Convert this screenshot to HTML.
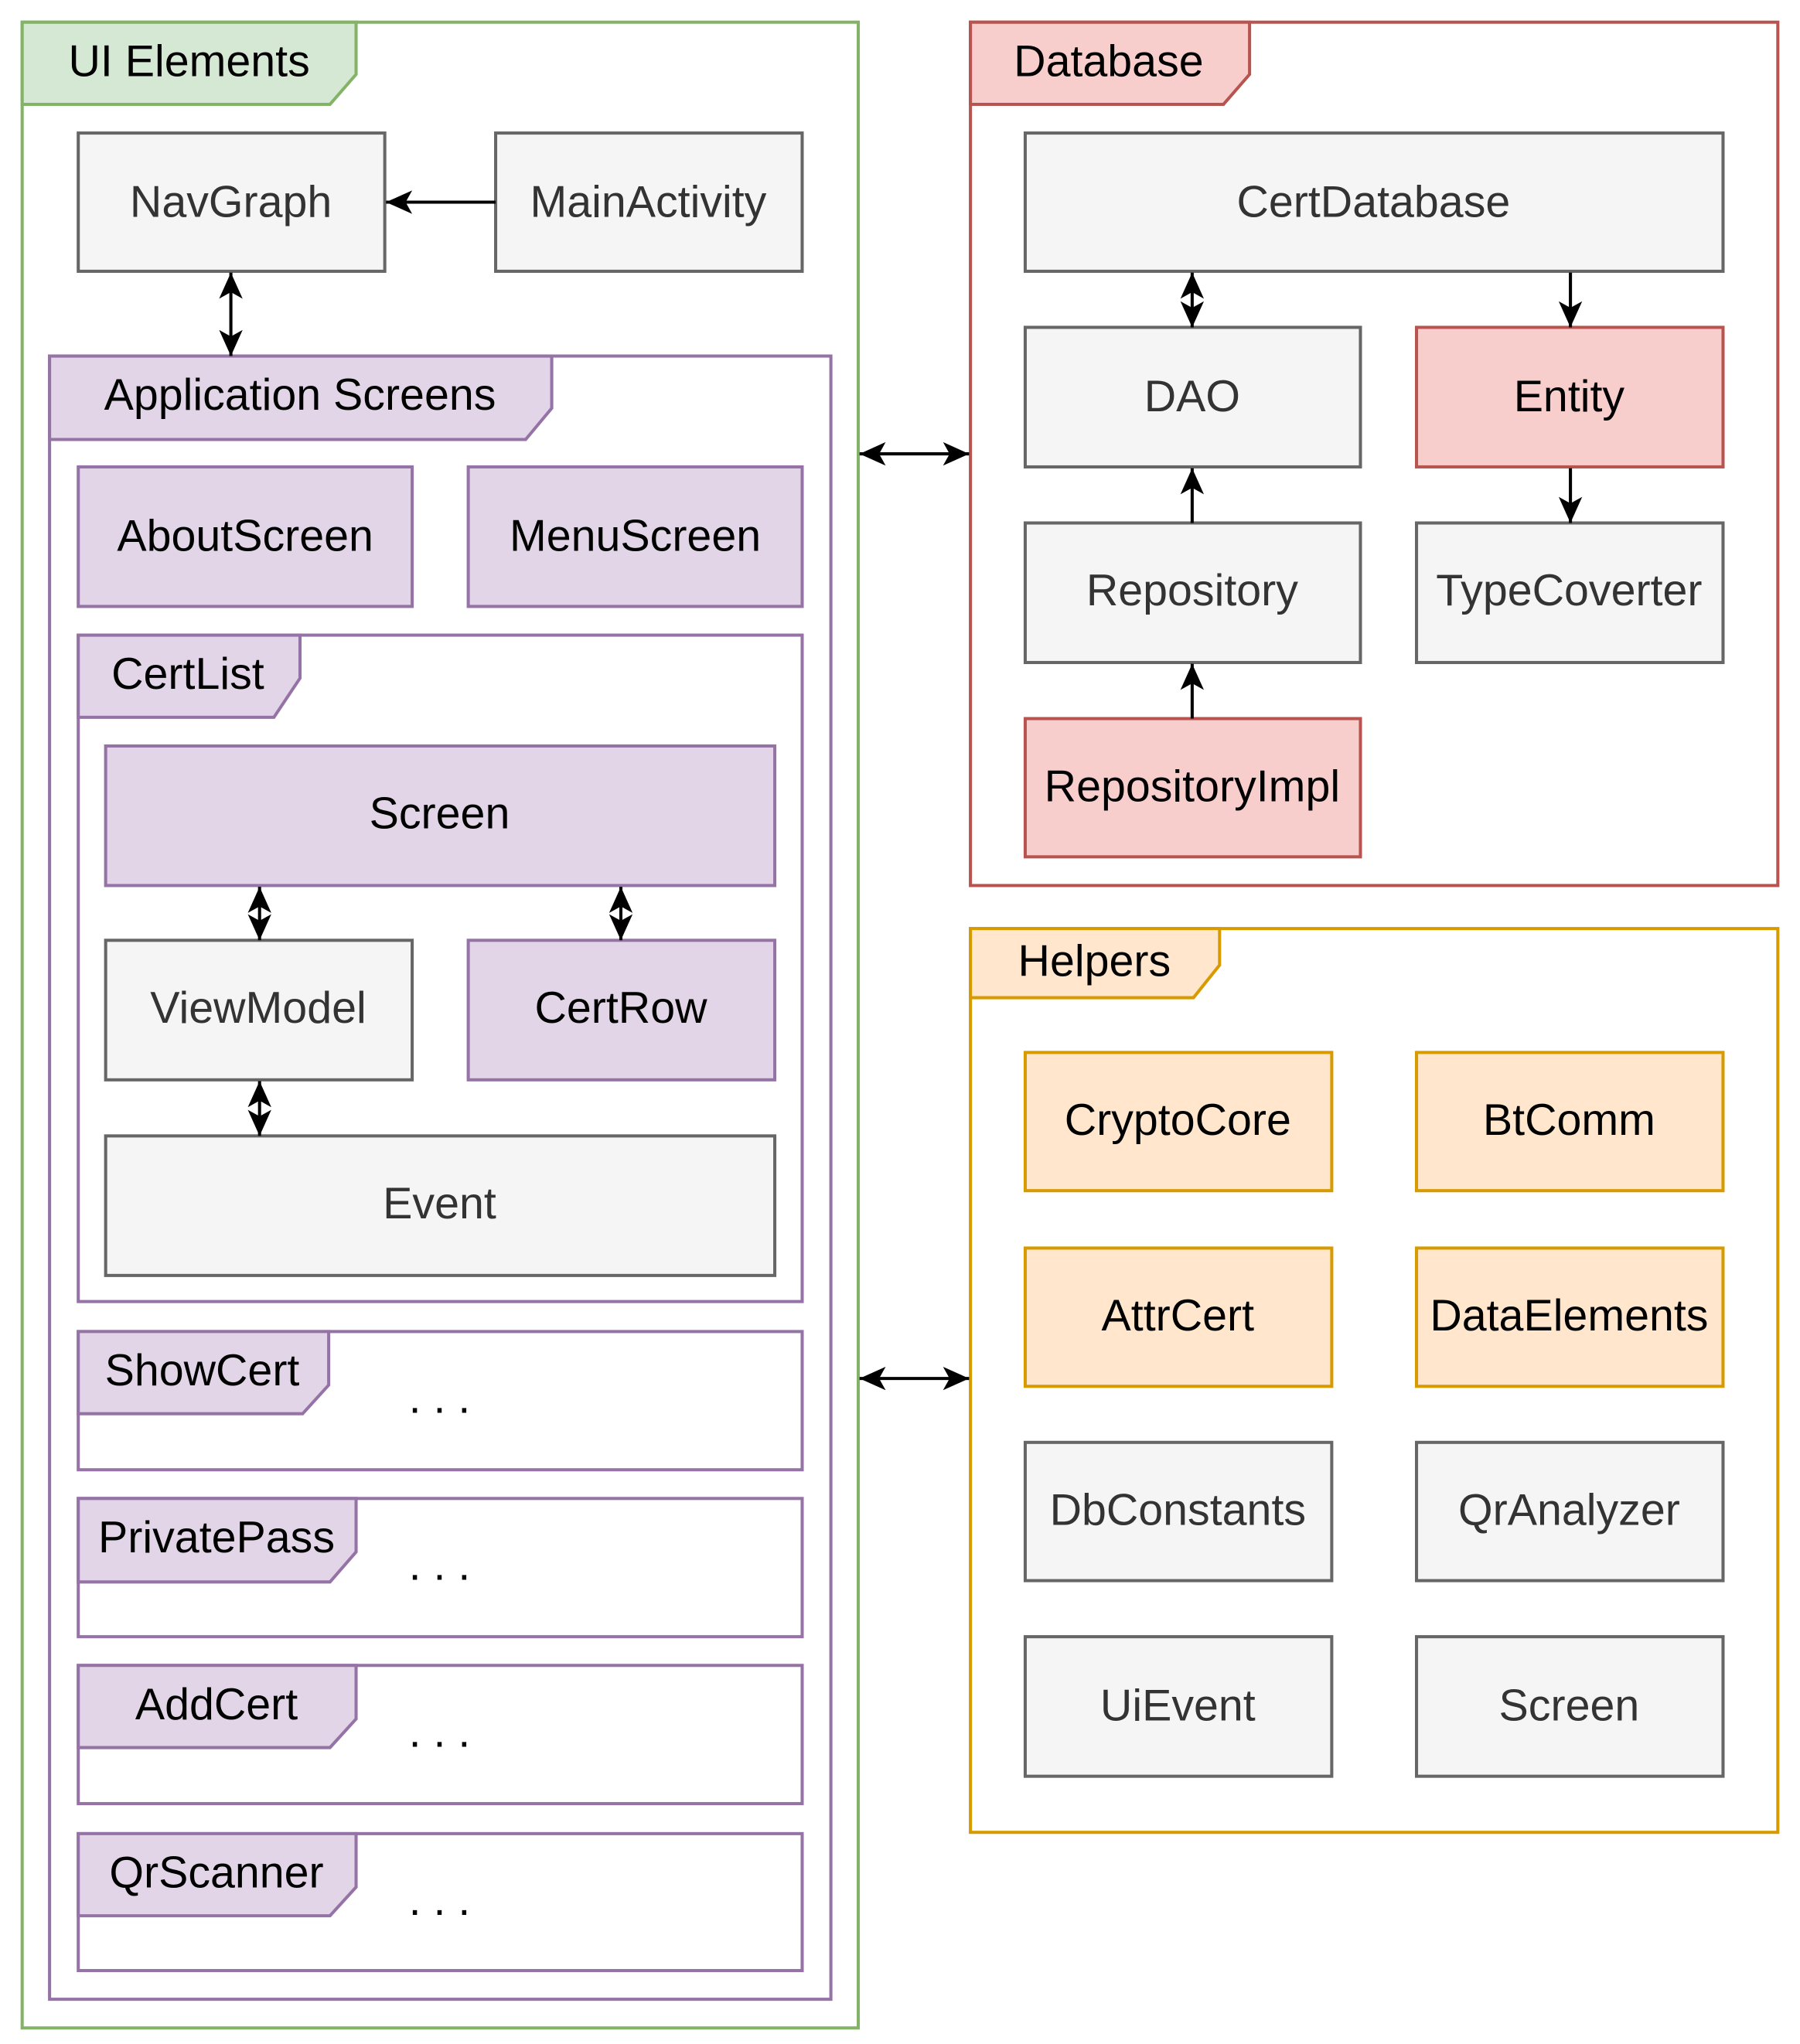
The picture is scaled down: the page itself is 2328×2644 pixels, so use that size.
<!DOCTYPE html>
<html><head><meta charset="utf-8"><style>
html,body{margin:0;padding:0;background:#fff}
svg{display:block}
text{font-family:"Liberation Sans",Arial,sans-serif;font-size:34px;text-anchor:middle;dominant-baseline:central}
</style></head><body>
<svg width="2328" height="2644" viewBox="0 0 1380 1567.3" xmlns="http://www.w3.org/2000/svg">
<defs>
<marker id="a" viewBox="0 0 20 20" refX="20" refY="10" markerWidth="20" markerHeight="20" markerUnits="userSpaceOnUse" orient="auto-start-reverse">
<path d="M0,1 L20,10 L0,19 L5,10 Z" fill="#000"/>
</marker>
</defs>
<g stroke-width="2.4">
<!-- UI Elements -->
<rect x="17" y="17" width="641" height="1538" fill="#fff" stroke="#82b366"/>
<path d="M17,17 H273 V57 L253,80 H17 Z" fill="#d5e8d4" stroke="#82b366"/>
<text x="145" y="47" fill="#000">UI Elements</text>

<rect x="60" y="102" width="235" height="106" fill="#f5f5f5" stroke="#666"/>
<text x="177" y="155" fill="#333">NavGraph</text>
<rect x="380" y="102" width="235" height="106" fill="#f5f5f5" stroke="#666"/>
<text x="497" y="155" fill="#333">MainActivity</text>

<!-- App Screens -->
<rect x="38" y="273" width="599" height="1260" fill="#fff" stroke="#9673a6"/>
<path d="M38,273 H423 V313 L403,337 H38 Z" fill="#e1d5e7" stroke="#9673a6"/>
<text x="230" y="303" fill="#000">Application Screens</text>

<rect x="60" y="358" width="256" height="107" fill="#e1d5e7" stroke="#9673a6"/>
<text x="188" y="411" fill="#000">AboutScreen</text>
<rect x="359" y="358" width="256" height="107" fill="#e1d5e7" stroke="#9673a6"/>
<text x="487" y="411" fill="#000">MenuScreen</text>

<rect x="60" y="487" width="555" height="511" fill="#fff" stroke="#9673a6"/>
<path d="M60,487 H230 V520 L210,550 H60 Z" fill="#e1d5e7" stroke="#9673a6"/>
<text x="144" y="517" fill="#000">CertList</text>

<rect x="81" y="572" width="513" height="107" fill="#e1d5e7" stroke="#9673a6"/>
<text x="337" y="624" fill="#000">Screen</text>
<rect x="81" y="721" width="235" height="107" fill="#f5f5f5" stroke="#666"/>
<text x="198" y="773" fill="#333">ViewModel</text>
<rect x="359" y="721" width="235" height="107" fill="#e1d5e7" stroke="#9673a6"/>
<text x="476" y="773" fill="#000">CertRow</text>
<rect x="81" y="871" width="513" height="107" fill="#f5f5f5" stroke="#666"/>
<text x="337" y="923" fill="#333">Event</text>

<rect x="60" y="1021" width="555" height="106" fill="#fff" stroke="#9673a6"/>
<path d="M60,1021 H252 V1062 L232,1084 H60 Z" fill="#e1d5e7" stroke="#9673a6"/>
<text x="155" y="1051" fill="#000">ShowCert</text>
<text x="337" y="1072" fill="#000">. . .</text>

<rect x="60" y="1149" width="555" height="106" fill="#fff" stroke="#9673a6"/>
<path d="M60,1149 H273 V1190 L253,1213 H60 Z" fill="#e1d5e7" stroke="#9673a6"/>
<text x="166" y="1179" fill="#000">PrivatePass</text>
<text x="337" y="1200" fill="#000">. . .</text>

<rect x="60" y="1277" width="555" height="106" fill="#fff" stroke="#9673a6"/>
<path d="M60,1277 H273 V1318 L253,1340 H60 Z" fill="#e1d5e7" stroke="#9673a6"/>
<text x="166" y="1307" fill="#000">AddCert</text>
<text x="337" y="1328" fill="#000">. . .</text>

<rect x="60" y="1406" width="555" height="105" fill="#fff" stroke="#9673a6"/>
<path d="M60,1406 H273 V1447 L253,1469 H60 Z" fill="#e1d5e7" stroke="#9673a6"/>
<text x="166" y="1436" fill="#000">QrScanner</text>
<text x="337" y="1457" fill="#000">. . .</text>

<!-- Database -->
<rect x="744" y="17" width="619" height="662" fill="#fff" stroke="#b85450"/>
<path d="M744,17 H958 V57 L938,80 H744 Z" fill="#f8cecc" stroke="#b85450"/>
<text x="850" y="47" fill="#000">Database</text>

<rect x="786" y="102" width="535" height="106" fill="#f5f5f5" stroke="#666"/>
<text x="1053" y="155" fill="#333">CertDatabase</text>
<rect x="786" y="251" width="257" height="107" fill="#f5f5f5" stroke="#666"/>
<text x="914" y="304" fill="#333">DAO</text>
<rect x="1086" y="251" width="235" height="107" fill="#f8cecc" stroke="#b85450"/>
<text x="1203" y="304" fill="#000">Entity</text>
<rect x="786" y="401" width="257" height="107" fill="#f5f5f5" stroke="#666"/>
<text x="914" y="453" fill="#333">Repository</text>
<rect x="1086" y="401" width="235" height="107" fill="#f5f5f5" stroke="#666"/>
<text x="1203" y="453" fill="#333">TypeCoverter</text>
<rect x="786" y="551" width="257" height="106" fill="#f8cecc" stroke="#b85450"/>
<text x="914" y="603" fill="#000">RepositoryImpl</text>

<!-- Helpers -->
<rect x="744" y="712" width="619" height="693" fill="#fff" stroke="#d79b00"/>
<path d="M744,712 H935 V740 L915,765 H744 Z" fill="#ffe6cc" stroke="#d79b00"/>
<text x="839" y="737" fill="#000">Helpers</text>

<rect x="786" y="807" width="235" height="106" fill="#ffe6cc" stroke="#d79b00"/>
<text x="903" y="859" fill="#000">CryptoCore</text>
<rect x="1086" y="807" width="235" height="106" fill="#ffe6cc" stroke="#d79b00"/>
<text x="1203" y="859" fill="#000">BtComm</text>
<rect x="786" y="957" width="235" height="106" fill="#ffe6cc" stroke="#d79b00"/>
<text x="903" y="1009" fill="#000">AttrCert</text>
<rect x="1086" y="957" width="235" height="106" fill="#ffe6cc" stroke="#d79b00"/>
<text x="1203" y="1009" fill="#000">DataElements</text>
<rect x="786" y="1106" width="235" height="106" fill="#f5f5f5" stroke="#666"/>
<text x="903" y="1158" fill="#333">DbConstants</text>
<rect x="1086" y="1106" width="235" height="106" fill="#f5f5f5" stroke="#666"/>
<text x="1203" y="1158" fill="#333">QrAnalyzer</text>
<rect x="786" y="1255" width="235" height="107" fill="#f5f5f5" stroke="#666"/>
<text x="903" y="1308" fill="#333">UiEvent</text>
<rect x="1086" y="1255" width="235" height="107" fill="#f5f5f5" stroke="#666"/>
<text x="1203" y="1308" fill="#333">Screen</text>
</g>

<!-- connectors -->
<g stroke="#000" stroke-width="2.4" fill="none">
<line x1="380" y1="155" x2="296" y2="155" marker-end="url(#a)"/>
<line x1="177" y1="209" x2="177" y2="273" marker-start="url(#a)" marker-end="url(#a)"/>
<line x1="199" y1="680" x2="199" y2="721" marker-start="url(#a)" marker-end="url(#a)"/>
<line x1="476" y1="680" x2="476" y2="721" marker-start="url(#a)" marker-end="url(#a)"/>
<line x1="199" y1="829" x2="199" y2="871" marker-start="url(#a)" marker-end="url(#a)"/>
<line x1="914" y1="209" x2="914" y2="251" marker-start="url(#a)" marker-end="url(#a)"/>
<line x1="1204" y1="209" x2="1204" y2="251" marker-end="url(#a)"/>
<line x1="914" y1="401" x2="914" y2="359" marker-end="url(#a)"/>
<line x1="1204" y1="359" x2="1204" y2="401" marker-end="url(#a)"/>
<line x1="914" y1="551" x2="914" y2="509" marker-end="url(#a)"/>
<line x1="659" y1="348" x2="743" y2="348" marker-start="url(#a)" marker-end="url(#a)"/>
<line x1="659" y1="1057" x2="743" y2="1057" marker-start="url(#a)" marker-end="url(#a)"/>
</g>
</svg>
</body></html>
